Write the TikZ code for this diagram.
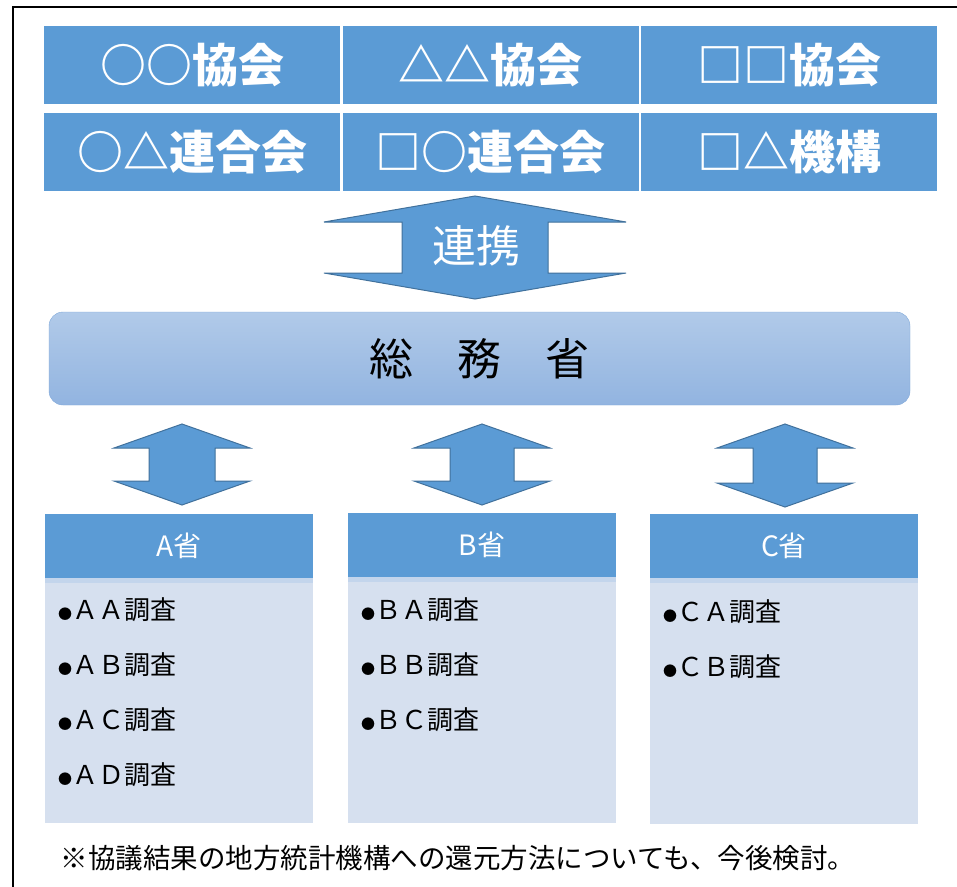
\documentclass[tikz,border=0pt]{standalone}
\usepackage{fontspec}
\setmainfont{Noto Sans CJK JP}
\usetikzlibrary{positioning,calc}

\definecolor{cellblue}{HTML}{5B9BD5}
\definecolor{edgeblue}{HTML}{41719C}
\definecolor{bodyblue}{HTML}{D6E0EF}
\definecolor{bandblue}{HTML}{C3D5EC}
\definecolor{mictop}{HTML}{B1CAE9}
\definecolor{micbot}{HTML}{92B4E0}
\definecolor{micedge}{HTML}{80A9DA}

% up/down arrow: cx, top tip, bottom tip, head length, head half, shaft half
\newcommand{\twoway}[6]{%
  \draw[arrowshape] (#1,#2) -- (#1+#5,#2+#4) -- (#1+#6,#2+#4) -- (#1+#6,#3-#4)
    -- (#1+#5,#3-#4) -- (#1,#3) -- (#1-#5,#3-#4) -- (#1-#6,#3-#4)
    -- (#1-#6,#2+#4) -- (#1-#5,#2+#4) -- cycle;}
\newcommand{\dotmark}{{\fontsize{14}{14}\selectfont ●}}

\begin{document}
\begin{tikzpicture}[x = 1pt, y = -1pt, font = \fontsize{26}{30}\selectfont]
    \tikzset{
      org/.style = {fill = cellblue, text = white, inner sep = 0, minimum width = 296, minimum height = 78,
                    font = \fontsize{46}{50}\selectfont\bfseries},
      arrowshape/.style = {fill = cellblue, draw = edgeblue, line width = 1pt, line join = miter},
      head/.style = {fill = cellblue, text = white, inner sep = 0, minimum width = 268, minimum height = 64,
                     font = \fontsize{28}{32}\selectfont},
      body/.style = {fill = bodyblue, inner sep = 0, minimum width = 268, minimum height = 245},
      item/.style = {anchor = west, inner sep = 0},
    }

    \useasboundingbox (0, 0) rectangle (957, 886);
    \fill[white] (0, 0) rectangle (957, 886);
    \draw[line width = 2pt] (13, 900) |- (970, 7);

    \node[org] (org0) at (192, 65) {○○協会};
    \node[org] (org1) at (490.5, 65) {△△協会};
    \node[org] (org2) at (789, 65) {□□協会};
    \node[org] (org3) at (192, 152) {○△連合会};
    \node[org] (org4) at (490.5, 152) {□○連合会};
    \node[org] (org5) at (789, 152) {□△機構};

    \twoway{475}{196}{299}{26}{151}{73}
    \node[text = white, font = \fontsize{44}{48}\selectfont] (link) at (476, 246) {連携};

    \node[draw = micedge, top color = mictop, bottom color = micbot, rounded corners = 14,
          minimum width = 861, minimum height = 93, inner sep = 0,
          font = \fontsize{44}{48}\selectfont] (mic) at (479.5, 358.5) {総　務　省};

    \twoway{182}{424}{505}{24}{68}{33}
    \twoway{482}{424}{505}{24}{68}{32}
    \twoway{785}{424}{507}{24}{68}{32}

    \node[head] (hdrA) at (179, 546) {A省};
    \node[body] (bodyA) at (179, 700.5) {};
    \fill[bandblue] (hdrA.south west) rectangle ++(268, 5);
    \node[item] (itemAA) at (58, 610) {\dotmark ＡＡ調査};
    \node[item] (itemAB) at (58, 665) {\dotmark ＡＢ調査};
    \node[item] (itemAC) at (58, 720) {\dotmark ＡＣ調査};
    \node[item] (itemAD) at (58, 775) {\dotmark ＡＤ調査};

    \node[head] (hdrB) at (482, 545) {B省};
    \node[body] (bodyB) at (482, 700.5) {};
    \fill[bandblue] (hdrB.south west) rectangle ++(268, 5);
    \node[item] (itemBA) at (361, 610) {\dotmark ＢＡ調査};
    \node[item] (itemBB) at (361, 665) {\dotmark ＢＢ調査};
    \node[item] (itemBC) at (361, 720) {\dotmark ＢＣ調査};

    \node[head] (hdrC) at (784, 545.5) {C省};
    \node[body] (bodyC) at (784, 701) {};
    \fill[bandblue] (hdrC.south west) rectangle ++(268, 5);
    \node[item] (itemCA) at (663, 612) {\dotmark ＣＡ調査};
    \node[item] (itemCB) at (663, 667) {\dotmark ＣＢ調査};

    \node[font = \fontsize{27.5}{30}\selectfont] (note) at (458, 858) {※協議結果の地方統計機構への還元方法についても、今後検討。};
  \end{tikzpicture}
\end{document}
